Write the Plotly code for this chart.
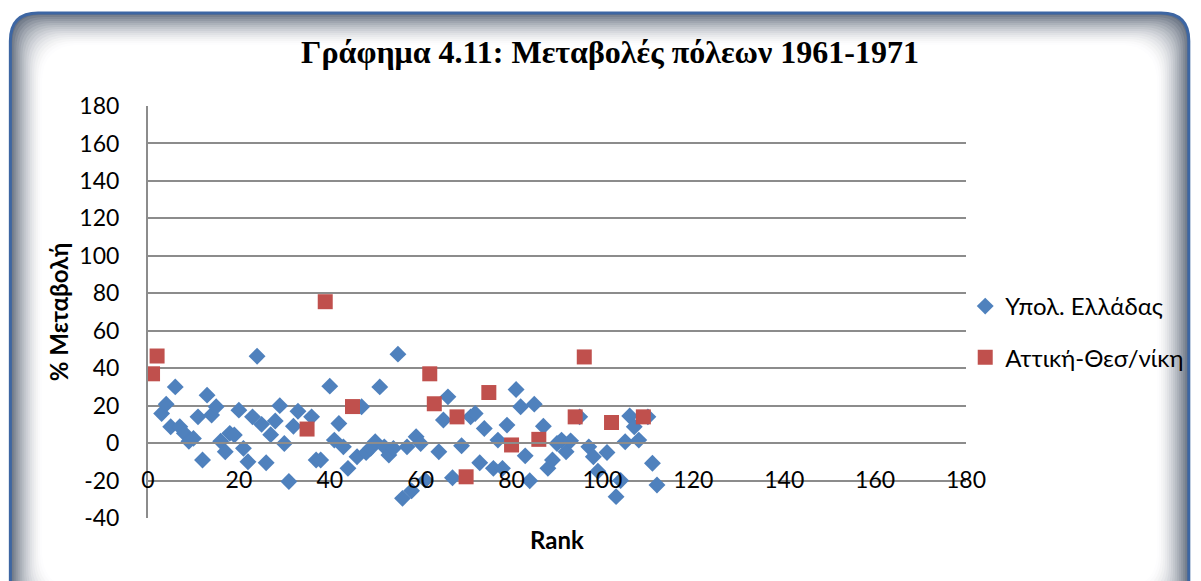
import plotly.graph_objects as go

# ---------------- data ----------------
title_text = "Γράφημα 4.11: Μεταβολές πόλεων 1961-1971"
series_names = ["Υπολ. Ελλάδας", "Αττική-Θεσ/νίκη"]
x_label = "Rank"
y_label = "% Μεταβολή"

rest_rank = [3, 4, 5, 6, 7, 8, 9, 10, 11, 12, 13, 14, 15, 16, 17, 18, 19, 20, 21, 22, 23, 24,
             25, 26, 27, 28, 29, 30, 31, 32, 33,
             36, 37, 38,
             40, 41, 42, 43, 44,
             46, 47, 48, 49, 50, 51, 52, 53, 54, 55, 56, 57, 58, 59, 60, 61,
             64, 65, 66, 67,
             69,
             71, 72, 73, 74,
             76, 77, 78, 79,
             81, 82, 83, 84, 85,
             87, 88, 89, 90, 91, 92, 93,
             95,
             97, 98, 99, 101,
             103, 104, 105, 106, 107, 108,
             110, 111, 112]
rest_change = [15.8, 20.8, 8.7, 30, 8.7, 5.2, 1, 2.5, 14, -9, 25.6, 15, 19.4, 1, -4.6, 5.2, 4.3, 17.6, -2.8, -10, 14, 46.4,
               10, -10.5, 4.5, 11.8, 20, -0.2, -20.5, 9, 17,
               14, -9, -9,
               30.4, 1.6, 10.5, -2, -13.5,
               -7.3, 19.4, -5, -2.8, 0.7, 30, -2, -6.4, -2.8, 47.5, -29.5, -2, -25.5, 3.4, -0.2, -19.8,
               -4.6, 12.3, 24.7, -18.5,
               -1.4,
               14, 15.8, -10.5, 7.8,
               -13.5, 1.6, -13.5, 9.6,
               28.6, 19.4, -6.8, -20.1, 20.8,
               9, -13.5, -9, -0.2, 1.6, -4.6, 1.2,
               14,
               -2, -7.3, -15, -5,
               -28.6, -20, 0.7, 14.5, 8.7, 1.6,
               14, -10.8, -22.4]

att_rank = [1, 2, 35, 39, 45, 62, 63, 68, 70, 75, 80, 86, 94, 96, 102, 109]
att_change = [37, 46.5, 7.5, 75.5, 19.5, 37, 21, 14, -18, 27, -1, 2, 14, 46, 11, 14]

x_ticks = [0, 20, 40, 60, 80, 100, 120, 140, 160, 180]
y_ticks = [-40, -20, 0, 20, 40, 60, 80, 100, 120, 140, 160, 180]

assert len(rest_rank) == len(rest_change)
assert len(att_rank) == len(att_change)

# ---------------- layout geometry ----------------
# the page body has an 8px margin; work in reference pixel coords and shift
OFF = 8
FIG_W, FIG_H = 1201 - OFF, 581 - OFF
L, R, T, B = 148 - OFF, 974 - OFF, 106 - OFF, 518 - OFF
PW, PH = R - L, B - T

BLUE = "#4f81bd"
RED = "#c0504d"
GRID = "#8c8c8c"
FONT = "Lato, 'Open Sans', sans-serif"


def to_paper(x, y):
    return (x - L) / PW, (B - y) / PH


def rrect_path(x0, y0, x1, y1, r):
    def p(x, y):
        px, py = to_paper(x, y)
        return f"{px:.5f},{py:.5f}"

    s = f"M {p(x0 + r, y0)} L {p(x1 - r, y0)} Q {p(x1, y0)} {p(x1, y0 + r)} "
    s += f"L {p(x1, y1 - r)} Q {p(x1, y1)} {p(x1 - r, y1)} "
    s += f"L {p(x0 + r, y1)} Q {p(x0, y1)} {p(x0, y1 - r)} "
    s += f"L {p(x0, y0 + r)} Q {p(x0, y0)} {p(x0 + r, y0)} Z"
    return s


shapes = []
fx0, fy0, fx1, fy1 = 9 - OFF, 13 - OFF, 1199 - OFF, 620 - OFF
N = 16
dark = (104, 114, 130)
for k in range(N + 1):
    t = k / N
    f = (1 - t) ** 1.6
    col = tuple(int(round(255 - (255 - c) * f)) for c in dark)
    d = k * 2
    shapes.append(dict(
        type="path", xref="paper", yref="paper", layer="below",
        path=rrect_path(fx0 + d, fy0 + d, fx1 - d, fy1 - d, 28 + k * 0.6),
        fillcolor=f"rgb{col}", line=dict(width=0),
    ))
shapes.append(dict(
    type="path", xref="paper", yref="paper", layer="below",
    path=rrect_path(fx0, fy0, fx1, fy1, 28),
    fillcolor="rgba(0,0,0,0)", line=dict(color="#3d66a3", width=3),
))

fig = go.Figure()
fig.add_trace(go.Scatter(
    x=rest_rank, y=rest_change, mode="markers", name=series_names[0],
    legendgroup="a",
    marker=dict(symbol="diamond", size=13, color=BLUE, line=dict(width=0)),
))
fig.add_trace(go.Scatter(
    x=att_rank, y=att_change, mode="markers", name=series_names[1],
    legendgroup="b",
    marker=dict(symbol="square", size=15, color=RED, line=dict(width=0)),
))

fig.update_layout(
    width=FIG_W, height=FIG_H,
    margin=dict(l=L, r=FIG_W - R, t=T, b=FIG_H - B, pad=0),
    paper_bgcolor="white", plot_bgcolor="rgba(0,0,0,0)",
    shapes=shapes,
    title=dict(text=f"<b>{title_text}</b>", x=(610 - OFF) / FIG_W, xref="container", xanchor="center",
               y=1 - (52 - OFF) / FIG_H, yref="container", yanchor="middle",
               font=dict(family="'Liberation Serif', 'Times New Roman', serif", size=32, color="black")),
    xaxis=dict(range=[0, 180], tickmode="array", tickvals=x_ticks, ticktext=[str(v) for v in x_ticks],
               showgrid=False, zeroline=False, showline=True, linecolor=GRID, linewidth=2,
               anchor="free", position=40 / 220, ticks="", ticklabelstandoff=16,
               tickfont=dict(family=FONT, size=23, color="black"),
               title=dict(text=f"<b>{x_label}</b>", font=dict(family=FONT, size=24, color="black"), standoff=40),
               automargin=False, fixedrange=True),
    yaxis=dict(range=[-40, 180], tickmode="array", tickvals=y_ticks, ticktext=[str(v) for v in y_ticks],
               showgrid=True, gridcolor=GRID, gridwidth=2, zeroline=False,
               showline=True, linecolor=GRID, linewidth=2, ticks="", ticklabelstandoff=22,
               tickfont=dict(family=FONT, size=23, color="black"),
               title=dict(text=f"<b>{y_label}</b>", font=dict(family=FONT, size=24, color="black"), standoff=4),
               automargin=False, fixedrange=True),
    showlegend=True,
    legend=dict(x=0.993 + 5 / PW, xanchor="left", y=(B - (284 - OFF)) / PH, yanchor="top",
                font=dict(family=FONT, size=24, color="black"),
                bgcolor="rgba(0,0,0,0)", tracegroupgap=17, traceorder="grouped",
                itemwidth=30),
)

fig.write_html("out.html")
